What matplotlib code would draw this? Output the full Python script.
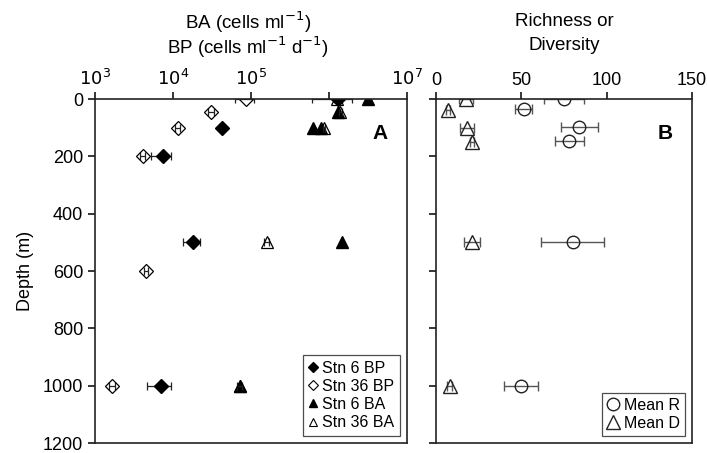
import matplotlib.pyplot as plt
from matplotlib.lines import Line2D

plt.rcParams["font.family"] = ["Liberation Sans", "DejaVu Sans"]

# ─── Panel A: bacterial abundance / production ──────────────────────────────
stn6_bp_depth = [0, 100, 200, 500, 1000]
stn6_bp_val = [1.3e6, 4.3e4, 7.4e3, 1.8e4, 7.1e3]
stn6_bp_err = [7e5, 4e3, 2.1e3, 4.5e3, 2.4e3]

stn36_bp_depth = [0, 45, 100, 200, 600, 1000]
stn36_bp_val = [8.6e4, 3.1e4, 1.15e4, 4.1e3, 4.5e3, 1.65e3]
stn36_bp_err = [2.3e4, 3e3, 8e2, 3e2, 3e2, 1.5e2]

stn6_ba_depth = [0, 45, 100, 100, 500, 1000]
stn6_ba_val = [3.2e6, 1.3e6, 6.2e5, 7.8e5, 1.45e6, 7.2e4]

stn36_ba_depth = [0, 45, 100, 500, 1000]
stn36_ba_val = [1.25e6, 1.4e6, 8.7e5, 1.6e5, 7.2e4]
stn36_ba_err = [4e4, 6e4, 3e4, 1.2e4, 5e3]

# ─── Panel B: richness / diversity ───────────────────────────────────────────
r_depth = [0, 35, 97, 145, 500, 1000]
r_val = [75, 51.5, 84, 78, 80, 50]
r_err = [11.5, 5, 11, 8.5, 18.5, 10]

d_depth = [0, 40, 100, 150, 500, 1000]
d_val = [17.6, 7, 18, 21, 21, 8]
d_err = [4, 1, 4, 1, 4.5, 1.5]

a_ticks = [1e3, 1e4, 1e5, 1e6, 1e7]
a_ticklabels = ["$10^3$", "$10^4$", "$10^5$", "", "$10^7$"]
depth_ticks = [0, 200, 400, 600, 800, 1000, 1200]

fig = plt.figure(figsize=(7.07, 4.53), dpi=100)
axA = fig.add_axes([95 / 707, 10 / 453, 312 / 707, 344 / 453])
axB = fig.add_axes([436 / 707, 10 / 453, 256 / 707, 344 / 453])

ebkw = dict(linestyle="none", capsize=3, elinewidth=0.9, capthick=0.9, ecolor="#222")

# filled diamonds
axA.errorbar(stn6_bp_val, stn6_bp_depth, xerr=stn6_bp_err, marker="D", ms=7,
             color="black", mfc="black", mec="black", **ebkw)
# open diamonds
axA.errorbar(stn36_bp_val, stn36_bp_depth, xerr=stn36_bp_err, marker="D", ms=7,
             color="black", mfc="none", mec="black", mew=0.9, **ebkw)
# filled triangles
axA.plot(stn6_ba_val, stn6_ba_depth, linestyle="none", marker="^", ms=9, color="black")
# open triangles
axA.errorbar(stn36_ba_val, stn36_ba_depth, xerr=stn36_ba_err, marker="^", ms=9,
             color="black", mfc="none", mec="black", mew=0.9, **ebkw)

axA.set_xscale("log")
axA.set_xlim(1e3, 1e7)
axA.set_xticks(a_ticks)
axA.set_xticklabels(a_ticklabels)
axA.minorticks_off()

ebkw_b = dict(linestyle="none", capsize=3.5, elinewidth=1.0, capthick=1.0, ecolor="#555")
axB.errorbar(r_val, r_depth, xerr=r_err, marker="o", ms=9, mfc="none",
             mec="#222", mew=1.0, **ebkw_b)
axB.errorbar(d_val, d_depth, xerr=d_err, marker="^", ms=10, mfc="none",
             mec="#222", mew=1.0, **ebkw_b)
axB.set_xlim(0, 150)
axB.set_xticks([0, 50, 100, 150])

for ax in (axA, axB):
    ax.set_ylim(1200, 0)
    ax.set_yticks(depth_ticks)
    ax.xaxis.set_ticks_position("top")
    ax.xaxis.set_label_position("top")
    ax.tick_params(axis="x", direction="out", length=5, width=1.1, labelsize=13, pad=2)
    ax.tick_params(axis="y", direction="out", length=5, width=1.1, labelsize=13)
    for sp in ax.spines.values():
        sp.set_linewidth(1.2)
        sp.set_color("#222")

axB.set_yticklabels([])
axA.set_ylabel("Depth (m)", fontsize=13, labelpad=6)

fig.text(248 / 707, 1 - 22 / 453, "BA (cells ml$^{-1}$)", ha="center", va="center", fontsize=13.5)
fig.text(248 / 707, 1 - 47 / 453, "BP (cells ml$^{-1}$ d$^{-1}$)", ha="center", va="center", fontsize=13.5)
fig.text(564 / 707, 1 - 22 / 453, "Richness or", ha="center", va="center", fontsize=13.5)
fig.text(564 / 707, 1 - 45 / 453, "Diversity", ha="center", va="center", fontsize=13.5)

axA.text(0.915, 0.9, "A", transform=axA.transAxes, fontsize=15, fontweight="bold",
         ha="center", va="center")
axB.text(0.895, 0.9, "B", transform=axB.transAxes, fontsize=15, fontweight="bold",
         ha="center", va="center")

# legend proxies (markers only)
handlesA = [
    Line2D([], [], linestyle="none", marker="D", ms=5, color="black", label="Stn 6 BP"),
    Line2D([], [], linestyle="none", marker="D", ms=5, mfc="none", mec="black", mew=0.8, label="Stn 36 BP"),
    Line2D([], [], linestyle="none", marker="^", ms=6, color="black", label="Stn 6 BA"),
    Line2D([], [], linestyle="none", marker="^", ms=6, mfc="none", mec="black", mew=0.8, label="Stn 36 BA"),
]
legA = axA.legend(handles=handlesA, loc="lower right", fontsize=11.5, frameon=True,
                  fancybox=False, handlelength=0.6, handletextpad=0.25, borderpad=0.35,
                  labelspacing=0.2, borderaxespad=0.45)
legA.get_frame().set_edgecolor("#222")
legA.get_frame().set_linewidth(0.9)

handlesB = [
    Line2D([], [], linestyle="none", marker="o", ms=9, mfc="none", mec="#222", mew=1.0, label="Mean R"),
    Line2D([], [], linestyle="none", marker="^", ms=10, mfc="none", mec="#222", mew=1.0, label="Mean D"),
]
legB = axB.legend(handles=handlesB, loc="lower right", fontsize=11.5, frameon=True,
                  fancybox=False, handlelength=0.8, handletextpad=0.3, borderpad=0.3,
                  labelspacing=0.2, borderaxespad=0.45)
legB.get_frame().set_edgecolor("#222")
legB.get_frame().set_linewidth(0.9)

fig.savefig("out.png", dpi=100)
